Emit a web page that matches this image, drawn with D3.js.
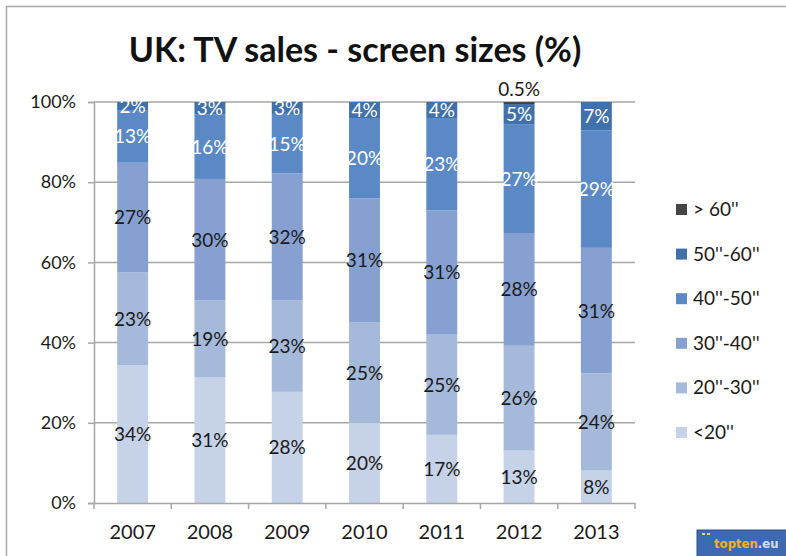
<!DOCTYPE html>
<html>
<head>
<meta charset="utf-8">
<script src="https://cdn.jsdelivr.net/npm/d3@7"></script>
<style>
  html, body { margin: 0; padding: 0; background: #fff; }
  svg { display: block; font-family: Lato, "Open Sans", sans-serif; }
</style>
</head>
<body>
<svg id="chart" width="786" height="556"></svg>
<script>
// ---- data ----
const years = ["2007", "2008", "2009", "2010", "2011", "2012", "2013"];
const seriesNames = ["<20''", "20''-30''", "30''-40''", "40''-50''", "50''-60''", "> 60''"];
const under20 = [34, 31, 28, 20, 17, 13, 8];
const size20to30 = [23, 19, 23, 25, 25, 26, 24];
const size30to40 = [27, 30, 32, 31, 31, 28, 31];
const size40to50 = [13, 16, 15, 20, 23, 27, 29];
const size50to60 = [2, 3, 3, 4, 4, 5, 7];
const over60 = [0, 0, 0, 0, 0, 0.5, 0];
const yTicks = [0, 0.2, 0.4, 0.6, 0.8, 1.0];

const seriesValues = [under20, size20to30, size30to40, size40to50, size50to60, over60];
const colors = ["#c6d2e7", "#a5b9db", "#86a1d1", "#5b89c5", "#4071ab", "#454545"];
const labelColors = ["#1a1a1a", "#1a1a1a", "#1a1a1a", "#ffffff", "#ffffff", "#1a1a1a"];

const rows = years.map((y, i) => {
  const r = { year: y };
  seriesNames.forEach((s, k) => r[s] = seriesValues[k][i]);
  return r;
});

const svg = d3.select("#chart");

// frame
svg.append("rect").attr("x", 6.5).attr("y", 6.5).attr("width", 800).attr("height", 600)
  .attr("fill", "none").attr("stroke", "#a8a8a8").attr("stroke-width", 1.5);

// title
svg.append("text").attr("x", 355).attr("y", 62).attr("text-anchor", "middle")
  .attr("font-size", 34).attr("font-weight", "bold").attr("fill", "#111")
  .text("UK: TV sales - screen sizes (%)");

const x = d3.scaleBand().domain(years).range([94, 635]).paddingInner(0.6).paddingOuter(0.3);
const y = d3.scaleLinear().domain([0, 1]).range([503, 102]);

// gridlines
svg.append("g").selectAll("line").data(yTicks.filter(t => t > 0)).join("line")
  .attr("x1", 94).attr("x2", 635).attr("y1", d => y(d)).attr("y2", d => y(d))
  .attr("stroke", "#a6a6a6").attr("stroke-width", 1.5);

// y axis
const yAxis = svg.append("g").attr("transform", "translate(94,0)")
  .call(d3.axisLeft(y).tickValues(yTicks).tickFormat(d3.format(".0%")).tickSize(6).tickPadding(12));
yAxis.select(".domain").attr("stroke", "#a6a6a6").attr("stroke-width", 1.5);
yAxis.selectAll(".tick line").attr("stroke", "#a6a6a6").attr("stroke-width", 1.5);
yAxis.selectAll(".tick text").attr("font-size", 18).attr("fill", "#1a1a1a")
  .attr("font-family", "Lato, sans-serif");

// stack
const stack = d3.stack().keys(seriesNames).offset(d3.stackOffsetExpand);
const layers = stack(rows);

const g = svg.append("g");
layers.forEach((layer, k) => {
  g.append("g").selectAll("rect").data(layer).join("rect")
    .attr("x", d => x(d.data.year))
    .attr("width", x.bandwidth())
    .attr("y", d => y(d[1]))
    .attr("height", d => Math.max(0, y(d[0]) - y(d[1])))
    .attr("fill", colors[k]);
});

// x axis
const xAxis = svg.append("g").attr("transform", "translate(0,503)")
  .call(d3.axisBottom(x).tickSize(0).tickPadding(22));
xAxis.select(".domain").attr("stroke", "#a6a6a6").attr("stroke-width", 1.5);
xAxis.selectAll(".tick text").attr("font-size", 20).attr("fill", "#1a1a1a")
  .attr("font-family", "Lato, sans-serif");
// category boundary tick marks
const bounds = d3.range(years.length + 1).map(i => 94 + i * (541 / years.length));
svg.append("g").selectAll("line").data(bounds).join("line")
  .attr("x1", d => d).attr("x2", d => d).attr("y1", 503).attr("y2", 509)
  .attr("stroke", "#a6a6a6").attr("stroke-width", 1.5);

// labels
layers.forEach((layer, k) => {
  g.append("g").selectAll("text").data(layer.filter(d => d.data[seriesNames[k]] > 0)).join("text")
    .attr("x", d => x(d.data.year) + x.bandwidth() / 2)
    .attr("y", d => {
      if (k === seriesNames.length - 1) return y(d[1]) - 6;
      return (y(d[0]) + y(d[1])) / 2 + 7;
    })
    .attr("text-anchor", "middle")
    .attr("font-size", 19)
    .attr("fill", labelColors[k])
    .text(d => d.data[seriesNames[k]] + "%");
});

// legend
const legendOrder = seriesNames.slice().reverse();
const legendColors = colors.slice().reverse();
const lg = svg.append("g");
legendOrder.forEach((name, i) => {
  const cy = 209 + i * 44.6;
  lg.append("rect").attr("x", 676).attr("y", cy - 5).attr("width", 11).attr("height", 11)
    .attr("fill", legendColors[i]);
  lg.append("text").attr("x", 693).attr("y", cy + 7).attr("font-size", 19).attr("fill", "#1a1a1a")
    .text(name);
});

// logo
const logo = svg.append("g");
logo.append("rect").attr("x", 697).attr("y", 530).attr("width", 95).attr("height", 30)
  .attr("fill", "#3d69b3").attr("stroke", "#2c4f8f").attr("stroke-width", 1);
logo.append("rect").attr("x", 702).attr("y", 533).attr("width", 3).attr("height", 2).attr("fill", "#f2d36b");
logo.append("rect").attr("x", 707).attr("y", 533).attr("width", 3).attr("height", 2).attr("fill", "#f2d36b");
const lt = logo.append("text").attr("x", 714).attr("y", 548).attr("font-size", 13)
  .attr("font-weight", "bold").attr("font-family", "'DejaVu Sans Condensed', 'Liberation Sans Narrow', sans-serif");
lt.append("tspan").attr("fill", "#f4b124").text("topten");
lt.append("tspan").attr("fill", "#cfe0f5").text(".eu");
</script>
</body>
</html>
